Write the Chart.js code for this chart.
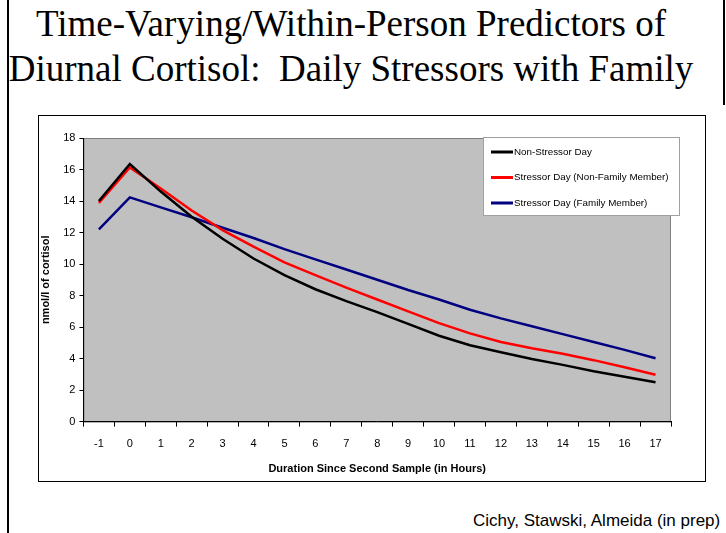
<!DOCTYPE html>
<html lang="en">
<head>
  <meta charset="UTF-8">
  <title>Diurnal Cortisol</title>
  <script src="https://cdn.jsdelivr.net/npm/chart.js"></script>
  <style>
    body { margin: 0; width: 726px; height: 533px; background: #fff; position: relative; overflow: hidden; }
    .edgeL { position: absolute; left: 7px; top: 0; width: 2px; height: 533px; background: #000; }
    .edgeR { position: absolute; left: 723px; top: 0; width: 2px; height: 105px; background: #000; }
    .title { position: absolute; left: 0; width: 702px; text-align: center; font-family: "Liberation Serif", serif; font-size: 37px; color: #000; white-space: pre; }
    .frame { position: absolute; left: 38px; top: 115px; width: 666px; height: 365px; border: 1px solid #000; }
    .credit { position: absolute; left: 473px; top: 511px; font-family: "Liberation Sans", Arial, sans-serif; font-size: 17px; color: #000; }
  </style>
</head>
<body>
  <div class="edgeL"></div>
  <div class="edgeR"></div>
  <div class="title" style="top: 2px;">Time-Varying/Within-Person Predictors of</div>
  <div class="title" style="top: 47px;">Diurnal Cortisol:  Daily Stressors with Family</div>
  <div class="frame"><canvas id="cortisolChart" width="666" height="365"></canvas></div>
  <div class="credit">Cichy, Stawski, Almeida (in prep)</div>
  <script>
    // 時間（2回目サンプルからの経過時間）
    const hours = ['-1', '0', '1', '2', '3', '4', '5', '6', '7', '8', '9', '10', '11', '12', '13', '14', '15', '16', '17'];

    // 系列ごとのコルチゾール値 (nmol/l)
    const nonStressor = [14.0, 16.35, 14.6, 13.0, 11.6, 10.35, 9.3, 8.4, 7.65, 6.95, 6.2, 5.45, 4.85, 4.4, 3.97, 3.6, 3.2, 2.85, 2.5];
    const stressorNonFamily = [13.88, 16.13, 14.8, 13.4, 12.15, 11.1, 10.1, 9.3, 8.5, 7.75, 7.0, 6.25, 5.6, 5.05, 4.65, 4.3, 3.9, 3.45, 2.97];
    const stressorFamily = [12.2, 14.23, 13.6, 12.97, 12.3, 11.65, 10.95, 10.3, 9.65, 9.0, 8.35, 7.75, 7.1, 6.55, 6.05, 5.55, 5.05, 4.55, 4.02];

    const yTicks = [0, 2, 4, 6, 8, 10, 12, 14, 16, 18];

    // プロットエリアの灰色背景
    const plotBg = {
      id: 'plotBg',
      beforeDraw(chart) {
        const { ctx, chartArea: a } = chart;
        ctx.save();
        ctx.fillStyle = '#c0c0c0';
        ctx.fillRect(a.left, a.top, a.right - a.left, a.bottom - a.top);
        ctx.strokeStyle = '#808080';
        ctx.lineWidth = 1;
        ctx.strokeRect(a.left + 0.5, a.top + 0.5, a.right - a.left - 1, a.bottom - a.top);
        ctx.restore();
      }
    };

    // 凡例（プロット右上の白い箱）
    const boxLegend = {
      id: 'boxLegend',
      afterDatasetsDraw(chart) {
        const { ctx, chartArea: a } = chart;
        const w = 197, h = 79;
        const x = a.right + 9 - w, y = a.top - 1;
        ctx.save();
        ctx.fillStyle = '#fff';
        ctx.fillRect(x, y, w, h);
        ctx.strokeStyle = '#a0a0a0';
        ctx.lineWidth = 1;
        ctx.strokeRect(x + 0.5, y + 0.5, w - 1, h - 1);
        ctx.font = '9.8px "Liberation Sans", Arial, sans-serif';
        ctx.textBaseline = 'middle';
        chart.data.datasets.forEach((ds, i) => {
          const ry = y + 15 + i * 25.5;
          ctx.strokeStyle = ds.borderColor;
          ctx.lineWidth = 3;
          ctx.beginPath();
          ctx.moveTo(x + 8, ry);
          ctx.lineTo(x + 30, ry);
          ctx.stroke();
          ctx.fillStyle = '#000';
          ctx.fillText(ds.label, x + 31, ry);
        });
        ctx.restore();
      }
    };

    const ctx = document.getElementById('cortisolChart').getContext('2d');
    new Chart(ctx, {
      type: 'line',
      data: {
        labels: hours,
        datasets: [
          { label: 'Non-Stressor Day', data: nonStressor, borderColor: '#000000' },
          { label: 'Stressor Day (Non-Family Member)', data: stressorNonFamily, borderColor: '#ff0000' },
          { label: 'Stressor Day (Family Member)', data: stressorFamily, borderColor: '#000080' }
        ]
      },
      options: {
        responsive: false,
        animation: false,
        devicePixelRatio: 1,
        layout: { padding: { left: 0, right: 34, top: 22, bottom: 5 } },
        elements: {
          line: { borderWidth: 2.5, tension: 0, fill: false },
          point: { radius: 0 }
        },
        plugins: {
          legend: { display: false },
          tooltip: { enabled: false }
        },
        scales: {
          x: {
            offset: true,
            grid: { offset: true, drawOnChartArea: false, tickLength: 5, color: '#000' },
            border: { color: '#000' },
            ticks: { color: '#000', font: { family: '"Liberation Sans", Arial, sans-serif', size: 11 }, maxRotation: 0, padding: 11 },
            title: {
              display: true,
              text: 'Duration Since Second Sample (in Hours)',
              color: '#000',
              font: { family: '"Liberation Sans", Arial, sans-serif', size: 11, weight: 'bold' },
              padding: { top: 1, bottom: 0 }
            }
          },
          y: {
            min: 0,
            max: 18,
            afterBuildTicks: axis => { axis.ticks = yTicks.map(v => ({ value: v })); },
            grid: { drawOnChartArea: false, tickLength: 4, color: '#000' },
            border: { color: '#000' },
            ticks: { color: '#000', font: { family: '"Liberation Sans", Arial, sans-serif', size: 11 }, padding: 4 },
            title: {
              display: true,
              text: 'nmol/l of cortisol',
              color: '#000',
              font: { family: '"Liberation Sans", Arial, sans-serif', size: 11, weight: 'bold' },
              padding: { top: 0, bottom: 7 }
            }
          }
        }
      },
      plugins: [plotBg, boxLegend]
    });
  </script>
</body>
</html>
